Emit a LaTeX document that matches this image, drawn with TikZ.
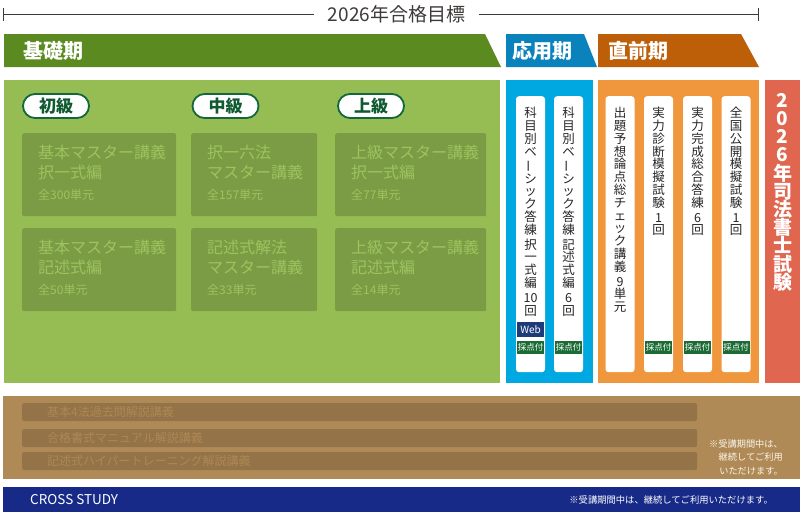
\documentclass[tikz,border=0pt]{standalone}
\usepackage{fontspec}
\setmainfont{Noto Sans CJK JP}
\usetikzlibrary{positioning}

\definecolor{ruleGray}{HTML}{3E3A39}
\definecolor{kisoDark}{HTML}{5B8A21}
\definecolor{kisoLight}{HTML}{95BD53}
\definecolor{kisoBox}{HTML}{7C9B45}
\definecolor{kisoText}{HTML}{9DC45F}
\definecolor{levelGreen}{HTML}{12683A}
\definecolor{levelText}{HTML}{0F5A30}
\definecolor{oyoDark}{HTML}{0A82BC}
\definecolor{oyoLight}{HTML}{00A8E1}
\definecolor{chokuDark}{HTML}{BD5E09}
\definecolor{chokuLight}{HTML}{F0963C}
\definecolor{examRed}{HTML}{E0664F}
\definecolor{scoreGreen}{HTML}{1B6B34}
\definecolor{webBlue}{HTML}{1D3B7A}
\definecolor{crossBrown}{HTML}{AF8A57}
\definecolor{crossBar}{HTML}{957349}
\definecolor{crossText}{HTML}{AD8853}
\definecolor{crossNavy}{HTML}{172A88}
\definecolor{noteCream}{HTML}{FBF5E8}

% vertical long-vowel mark
\newcommand{\tbar}{\rotatebox[origin=c]{90}{ー}}

\tikzset{
  every node/.style={inner sep=0pt},
  rule/.style={draw=ruleGray, line width=0.8pt},
  head text/.style={text=white, anchor=west, font=\fontsize{20}{24}\selectfont\bfseries},
  level/.style={draw=levelGreen, line width=1.8pt, fill=white, rounded corners=12pt,
    minimum width=66pt, minimum height=24pt, text=levelText,
    font=\fontsize{17}{20}\selectfont\bfseries},
  kiso box/.style={fill=kisoBox, rounded corners=2pt, minimum height=83pt, anchor=north west},
  kiso text/.style={text=kisoText, align=left, anchor=north west, font=\fontsize{16}{20}\selectfont},
  card/.style={fill=white, rounded corners=3pt, minimum width=29pt, minimum height=276pt, anchor=north},
  tate/.style={align=center, anchor=north, text=black!85, font=\fontsize{12.5}{12.8}\selectfont},
  score tag/.style={fill=scoreGreen, text=white, minimum width=27pt, minimum height=13pt,
    font=\fontsize{8.5}{9}\selectfont},
  web tag/.style={score tag, fill=webBlue, minimum height=15pt, font=\fontsize{10}{11}\selectfont},
  cross bar/.style={fill=crossBar, rounded corners=2pt, minimum width=675pt, minimum height=18pt, anchor=west},
  cross text/.style={text=crossText, anchor=west, font=\fontsize{12}{14}\selectfont},
}

\begin{document}
\begin{tikzpicture}[x=1pt, y=-1pt]

\useasboundingbox (0,0) rectangle (800,512);
\fill[white] (0,0) rectangle (800,512);

% target year
\coordinate (rule-l) at (3,14);
\coordinate (rule-r) at (758,14);
\node [inner xsep=14pt, font=\fontsize{19}{22}\selectfont, text=ruleGray] (goal) at (396.5,14) {2026年合格目標};
\draw [rule] (rule-l) -- (goal.west);
\draw [rule] (goal.east) -- (rule-r);
\draw [rule] ([yshift=6pt]rule-l) -- ([yshift=-7pt]rule-l);
\draw [rule] ([yshift=6pt]rule-r) -- ([yshift=-7pt]rule-r);

% phase headers
\fill [kisoDark] (4,34) -- (485,34) -- (501,67) -- (4,67) -- cycle;
\node [head text] (kiso-head) at (23,51) {基礎期};
\fill [oyoDark] (506,34) -- (584,34) -- (597,67) -- (506,67) -- cycle;
\node [head text] (oyo-head) at (512,51) {応用期};
\fill [chokuDark] (598,34) -- (741,34) -- (759,67) -- (598,67) -- cycle;
\node [head text] (choku-head) at (608,51) {直前期};

% panels
\fill [kisoLight] (4,80) rectangle (500,383);
\fill [oyoLight] (506,80) rectangle (593,383);
\fill [chokuLight] (598,80) rectangle (759,383);
\fill [examRed] (765,80) rectangle (800,383);

% basic period
\foreach \l/\x [count=\i] in {初級/56, 中級/225.5, 上級/371}
  \node [level] (level-\i) at (\x,106) {\l};

\foreach \n/\x/\y/\w/\first/\second/\units in {
    1/22/133/154/基本マスター講義/択一式編/全300単元,
    2/191/133/126/択一六法/マスター講義/全157単元,
    3/335/133/151/上級マスター講義/択一式編/全77単元,
    4/22/228/154/基本マスター講義/記述式編/全50単元,
    5/191/228/126/記述式解法/マスター講義/全33単元,
    6/335/228/151/上級マスター講義/記述式編/全14単元}
{
  \node [kiso box, minimum width=\w pt] (kiso-\n) at (\x,\y) {};
  \node [kiso text] at ([xshift=16pt, yshift=-12pt]kiso-\n.north west)
    {\first\\\second\\[0.5pt]{\fontsize{12}{14}\selectfont\units}};
}

% applied and final periods
\foreach \x [count=\i] in {530.5,568.5,620,658.5,697.5,736}
  \node [card] (card-\i) at (\x,96) {};

\node [tate, below=11pt of card-1.north] (text-1)
  {科\\目\\別\\ベ\\\tbar\\シ\\ッ\\ク\\答\\練\\[2pt]択\\一\\式\\編\\[2pt]10\\回};
\node [tate, below=11pt of card-2.north] (text-2)
  {科\\目\\別\\ベ\\\tbar\\シ\\ッ\\ク\\答\\練\\[2pt]記\\述\\式\\編\\[2pt]6\\回};
\node [tate, below=11pt of card-3.north] (text-3)
  {出\\題\\予\\想\\論\\点\\総\\チ\\ェ\\ッ\\ク\\講\\義\\[2pt]9\\単\\元};
\node [tate, below=11pt of card-4.north] (text-4)
  {実\\力\\診\\断\\模\\擬\\試\\験\\[2pt]1\\回};
\node [tate, below=11pt of card-5.north] (text-5)
  {実\\力\\完\\成\\総\\合\\答\\練\\[2pt]6\\回};
\node [tate, below=11pt of card-6.north] (text-6)
  {全\\国\\公\\開\\模\\擬\\試\\験\\[2pt]1\\回};

\foreach \i in {1,2,4,5,6}
  \node [score tag, above=18pt of card-\i.south] (score-\i) {採点付};
\node [web tag, above=4pt of score-1] (web-1) {Web};

% exam
\node [align=center, anchor=north, text=white, font=\fontsize{19}{18.2}\selectfont\bfseries] (exam) at (782.5,93)
  {2\\0\\2\\6\\年\\司\\法\\書\\士\\試\\験};

% cross study
\fill [crossBrown] (3,396) rectangle (800,479);
\foreach \y/\l [count=\i] in {412/基本4法過去問解説講義, 438/合格書式マニュアル解説講義, 461/記述式ハイパートレーニング解説講義}
{
  \node [cross bar] (bar-\i) at (22,\y) {};
  \node [cross text] at ([xshift=25pt]bar-\i.west) {\l};
}
\node [align=right, anchor=east, text=noteCream, font=\fontsize{9.2}{13.5}\selectfont] (note) at (783,457)
  {※受講期間中は、\\継続してご利用\\いただけます。};

\fill [crossNavy] (3,487) rectangle (800,512);
\node [anchor=west, text=white, font=\fontsize{13.5}{16}\selectfont] (cross-name) at (30,500) {CROSS STUDY};
\node [anchor=east, text=white, font=\fontsize{9.3}{11}\selectfont] (cross-note) at (773,500)
  {※受講期間中は、継続してご利用いただけます。};

\end{tikzpicture}
\end{document}
